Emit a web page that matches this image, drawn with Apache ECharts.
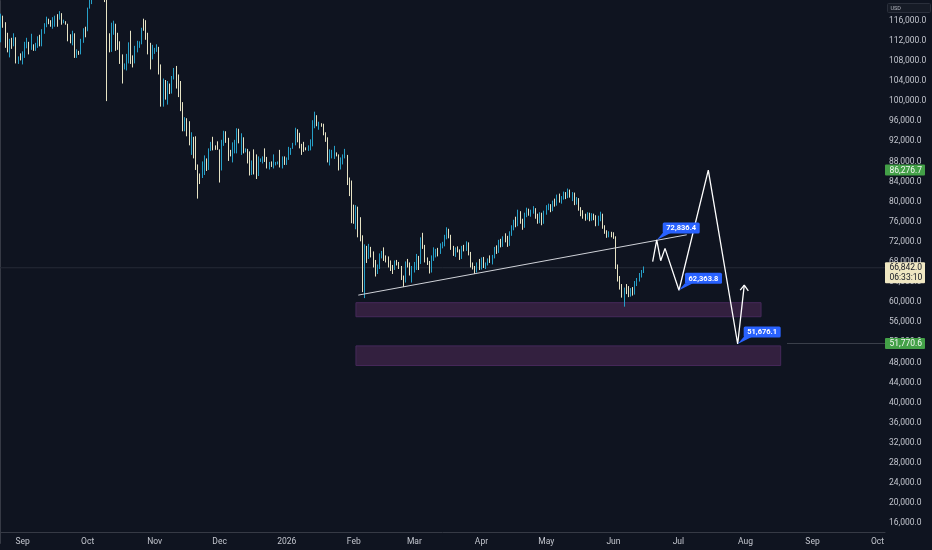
<!DOCTYPE html>
<html><head><meta charset="utf-8">
<script src="https://cdn.jsdelivr.net/npm/echarts@6/dist/echarts.min.js"></script>
<style>html,body{margin:0;padding:0;background:#0f1420;}#c{width:932px;height:550px;}</style>
</head><body><div id="c"></div>
<script>
// ---------- DATA ----------
const firstDay = '2025-08-22';   // first daily candle / first category
const categoryCount = 409;       // daily categories through 2026-10-04

const opens = [
112500,116900,115400,113500,110100,111800,111300,112600,108400,108800,
108200,109200,111200,111700,110700,110700,110200,111200,112100,111500,113900,115500,116100,115900,115400,115400,116800,116500,117100,115700,115700,115300,112700,112000,113300,109000,109700,109600,112100,114400,
114100,118600,120600,122300,122400,123500,124800,121500,123300,121700,113200,110700,115100,115300,113000,110800,108200,106500,107200,108600,110600,108500,107600,110100,111000,111600,114500,114100,112900,110000,108300,
109600,110100,110600,106500,101600,103900,101300,103300,102300,104700,106000,103000,101600,99700,94400,95500,94200,92200,92900,91500,86600,85100,84700,86800,88300,87300,90500,91300,90900,90800,
90400,86300,91300,93500,92100,89400,89300,90400,90600,92700,92000,92500,90300,90300,88200,86400,87800,86100,85500,88100,88300,88600,88500,87400,87600,87200,87300,87800,87800,87100,88400,
87500,88700,89900,90600,91400,93900,93700,91300,91000,90600,90400,90800,91200,95300,97000,95500,95500,95100,93600,92600,88300,89400,89500,89500,89200,86600,88300,89100,89200,84600,84100,
78600,76900,78700,75600,73000,62900,70500,69200,70900,69600,67800,66300,67000,69400,69900,68700,68500,67400,66900,66700,67900,67800,67100,64900,64200,67800,67600,65800,
66900,67300,68900,67900,72500,71100,68400,67900,66300,68700,69900,70300,70000,71300,71500,72900,74400,73100,70800,69700,70500,70200,68900,70800,70600,71600,69700,67300,66900,66200,67600,
66800,68500,67200,67500,68400,68000,69100,70600,70100,71900,71300,72800,72300,71500,73800,74900,76100,75400,77900,76200,75100,77400,78300,77600,78100,78400,77000,76300,77500,75900,
77800,78900,79200,78400,79800,79500,81000,80300,80800,81600,80900,82100,81300,81500,79700,80500,78600,77500,77100,76800,77600,76500,77400,76900,75500,76900,77400,75000,74000,73300,73800,
73400,72900,67000,64600,63000,61400,62500,62000,61600,62400,61800,63900,64400,65500,66100
];
const highs = [
117400,117000,115700,113600,112400,112600,113500,112700,108900,109500,
109900,111800,112600,111800,113400,111300,111600,112900,113200,114300,115500,116800,116400,116100,116700,117000,117300,117900,117500,116200,115900,115400,113300,114000,113500,110300,110000,112400,114500,114800,
118600,121000,123900,122900,125700,126200,125000,124100,123700,122500,113500,115600,116000,115400,113600,111900,109300,107500,109400,111700,114000,109100,111000,112000,111900,114600,116400,116100,113600,111600,111200,
110600,111300,110800,107300,104500,104200,104000,103500,105000,106600,107000,105300,104000,99800,96800,96600,96000,93800,92900,93000,87400,85600,88000,89200,88600,90600,91900,92900,91200,92000,
90400,92300,94100,94000,92700,90300,91800,92300,94600,94500,93600,92800,90600,90500,90000,88200,90400,89400,89000,88600,89000,90600,88900,87900,88000,89400,87900,88000,90300,89000,89000,
88800,90900,90700,91700,94700,94400,93700,91500,91900,90800,91200,92400,96200,97900,97200,95900,95600,95500,93800,92800,90400,90300,91100,89800,89400,88800,89400,90500,89300,84800,84200,
79400,79300,79000,76900,73300,71500,71200,71600,71000,70100,68400,67500,69700,70200,70900,69300,69100,68300,67400,68300,68400,68000,67200,65300,68100,68600,67900,67200,
68000,69600,69200,72900,73800,71400,68900,68200,69300,70900,70600,70800,71700,72000,73400,74900,74600,73400,71200,70900,71100,70500,71200,71400,72100,71900,70000,67900,67200,67900,68600,
68900,69000,67900,68700,69300,69400,71000,71300,72400,72600,73100,73700,73200,74100,75300,76400,77000,78400,78100,76600,77800,78800,78600,78400,79100,78700,77600,77900,77800,78200,
79300,79600,79500,80200,80600,81400,81600,81100,82000,81900,82600,82400,81900,81800,80900,80700,78900,78300,77600,77900,77800,77700,77600,77300,77200,78000,77600,75300,74300,74100,74000,
73900,73100,67500,65200,63600,62900,63600,63200,62800,63000,64200,64800,65800,66400,67100
];
const lows = [
111700,114600,110600,109700,108700,110400,110900,107500,107400,108100,
107300,108600,110500,109300,110200,110000,110000,110600,110900,110900,113400,114700,115300,114800,114400,114800,114800,116200,115200,115500,115200,111900,111500,111100,108600,108600,109200,109300,111600,112700,
113900,118400,119300,121600,122000,123100,120600,121100,119700,100000,109700,109800,113200,110000,110200,107400,103500,106300,106100,107500,107400,106700,107500,109700,110600,111300,114000,112200,109300,106300,108300,
109400,109800,105300,98900,98900,100300,99300,101400,101500,104300,102500,100800,98000,94000,94000,93000,91200,89300,88600,86300,80600,83500,84700,85300,86100,86300,90100,90200,90300,90300,
83800,86200,91100,91700,88100,89000,87800,89600,89600,91600,89300,89600,89800,87600,85200,85300,85400,84500,85100,87900,87600,87900,86600,86400,86900,86600,87200,87400,86800,86600,87300,
87300,88300,89300,90500,91200,91800,90600,89300,89900,90200,90100,90200,91000,94600,95000,94300,94900,93200,91900,87800,87200,88600,88500,89000,86200,86400,87400,88600,83300,81100,75700,
75600,74500,72900,72100,62000,60800,67800,68600,68900,66900,65100,65600,66600,68700,68200,67900,66900,66200,65600,66400,67300,66600,64400,63000,63900,66900,65300,63900,
65900,66400,66400,67600,70600,67900,67400,65700,65900,68200,68900,69100,69600,70700,71100,72500,72700,70400,69200,69000,69900,68400,68600,70100,70200,69300,66900,66500,65600,65900,66400,
66500,66800,66600,67300,67800,67500,68700,69600,69800,70900,71000,71900,71000,71200,73200,74300,74900,75100,75600,74400,74800,76900,77200,77000,77600,76600,75600,75700,75300,75600,
77400,78300,77900,78100,79000,79200,79800,79600,80400,80500,80700,80800,80100,79300,79400,78200,77100,76600,76200,76400,76100,76200,76300,75100,75200,76100,74600,73600,72800,72900,72900,
72600,66600,64100,62500,60900,59100,61600,61000,61100,61300,61500,63200,64100,64900,65800
];
const closes = [
116900,115400,113500,110100,111800,111300,112600,108400,108800,108200,
109200,111200,111700,110700,110700,110200,111200,112100,111500,113900,115500,116100,115900,115400,115400,116800,116500,117100,115700,115700,115300,112700,112000,113300,109000,109700,109600,112100,114400,114100,
118600,120600,122300,122400,123500,124800,121500,123300,121700,113200,110700,115100,115300,113000,110800,108200,106500,107200,108600,110600,108500,107600,110100,111000,111600,114500,114100,112900,110000,108300,109600,
110100,110600,106500,101600,103900,101300,103300,102300,104700,106000,103000,101600,99700,94400,95500,94200,92200,92900,91500,86600,85100,84700,86800,88300,87300,90500,91300,90900,90800,90400,
86300,91300,93500,92100,89400,89300,90400,90600,92700,92000,92500,90300,90300,88200,86400,87800,86100,85500,88100,88300,88600,88500,87400,87600,87200,87300,87800,87800,87100,88400,87500,
88700,89900,90600,91400,93900,93700,91300,91000,90600,90400,90800,91200,95300,97000,95500,95500,95100,93600,92600,88300,89400,89500,89500,89200,86600,88300,89100,89200,84600,84100,78600,
76900,78700,75600,73000,62900,70500,69200,70900,69600,67800,66300,67000,69400,69900,68700,68500,67400,66900,66700,67900,67800,67100,64900,64200,67800,67600,65800,66900,
67300,68900,67900,72500,71100,68400,67900,66300,68700,69900,70300,70000,71300,71500,72900,74400,73100,70800,69700,70500,70200,68900,70800,70600,71600,69700,67300,66900,66200,67600,66800,
68500,67200,67500,68400,68000,69100,70600,70100,71900,71300,72800,72300,71500,73800,74900,76100,75400,77900,76200,75100,77400,78300,77600,78100,78400,77000,76300,77500,75900,77800,
78900,79200,78400,79800,79500,81000,80300,80800,81600,80900,82100,81300,81500,79700,80500,78600,77500,77100,76800,77600,76500,77400,76900,75500,76900,77400,75000,74000,73300,73800,73400,
72900,67000,64600,63000,61400,62500,62000,61600,62400,61800,63900,64400,65500,66100,66842
];

const monthStarts = ['2025-09-01','2025-10-01','2025-11-01','2025-12-01','2026-01-01','2026-02-01','2026-03-01','2026-04-01','2026-05-01','2026-06-01','2026-07-01','2026-08-01','2026-09-01','2026-10-01'];
const monthLabels = ['Sep','Oct','Nov','Dec','2026','Feb','Mar','Apr','May','Jun','Jul','Aug','Sep','Oct'];
const yTickValues = [16000,20000,24000,28000,32000,36000,40000,44000,48000,52000,56000,60000,64000,68000,72000,76000,80000,84000,88000,92000,96000,100000,104000,108000,112000,116000];

// drawings (date/time, price)
const trendDates = ['2026-02-03 14:00','2026-07-05 09:00'];
const trendPrices = [61400, 73400];
const pathDates = ['2026-06-19 15:00','2026-06-21 12:00','2026-06-23 08:00','2026-06-25 08:00','2026-07-01 19:00','2026-07-15 08:00','2026-07-28 22:00','2026-07-31 23:00'];
const pathPrices = [68050, 72370, 68250, 70700, 62363.8, 86276.7, 51676.1, 63400];
const arrowDates = ['2026-07-30 02:00','2026-07-31 23:00','2026-08-02 20:00'];
const arrowPrices = [62380, 63400, 62260];
const zoneStarts = ['2026-02-02 12:00','2026-02-02 12:00'];
const zoneEnds = ['2026-08-08 17:00','2026-08-17 19:00'];
const zoneTops = [59900, 51300];
const zoneBottoms = [57100, 47400];
const noteDates = ['2026-06-21 12:00','2026-07-01 19:00','2026-07-28 22:00'];
const notePrices = [72370, 62363.8, 51676.1];
const noteTexts = ['72,836.4','62,363.8','51,676.1'];
const lastPrice = 66842;
const levelStart = '2026-08-20 17:00';
const levelPrice = 51770.6;
const tagPrices = [86276.7, 66842, 51770.6];
const tagTexts = [['86,276.7'], ['66,842.0','06:33:10'], ['51,770.6']];

// ---------- STYLE ----------
const BG = '#0f1420';
const UP = '#26a0c8', DOWN = '#e6e3c4';
const AXIS = '#363a45', TXT = '#c3c6ce';
const FONT = 'Roboto';
const TAG_STYLE = [{bg:'#43a047', fg:'#f2f7f2'}, {bg:'#efe7c2', fg:'#131722'}, {bg:'#43a047', fg:'#f2f7f2'}];

// ---------- BUILD ----------
const DAY = 86400000;
const t0 = Date.parse(firstDay + 'T00:00:00Z');
const dates = [];
for (let i = 0; i < categoryCount; i++) dates.push(new Date(t0 + i * DAY).toISOString().slice(0, 10));
const X = s => (Date.parse(s.replace(' ', 'T') + ':00Z') - t0) / DAY;
const candles = closes.map((c, i) => [opens[i], c, lows[i], highs[i]]);
const fmt = v => v.toLocaleString('en-US', {minimumFractionDigits: 1, maximumFractionDigits: 1});

const chart = echarts.init(document.getElementById('c'), null, {renderer: 'canvas'});
chart.setOption({
  backgroundColor: BG,
  animation: false,
  grid: {left: 0, right: 47, top: 0.6, bottom: 6.6, containLabel: false, outerBoundsMode: 'none'},
  xAxis: [{
    type: 'category', data: dates, boundaryGap: true, offset: -11.4,
    axisLine: {show: true, lineStyle: {color: AXIS}}, axisTick: {show: false}, splitLine: {show: false},
    axisLabel: {
      interval: (i, v) => monthStarts.indexOf(v) >= 0,
      formatter: v => { const k = monthStarts.indexOf(v); return k >= 0 ? monthLabels[k] : ''; },
      color: TXT, fontSize: 8.5, fontFamily: FONT, margin: 5
    }
  }, {
    type: 'value', min: 0, max: categoryCount, show: false
  }],
  yAxis: [{
    type: 'value', position: 'right', min: 12000, max: 120000, interval: 4000, scale: false,
    axisLine: {show: true, lineStyle: {color: AXIS}}, axisTick: {show: false}, splitLine: {show: false},
    axisLabel: {color: TXT, fontSize: 8.5, fontFamily: FONT, margin: 4,
      formatter: v => yTickValues.indexOf(v) >= 0 ? fmt(v) : ''}
  }],
  graphic: [{
    type: 'group', left: 887, top: 3, children: [
      {type: 'rect', shape: {x: 0, y: 0, width: 43, height: 9, r: 1}, style: {fill: '#161b26', stroke: '#2a2f3b', lineWidth: 1}},
      {type: 'text', style: {text: 'USD', x: 3, y: 4.8, verticalAlign: 'middle', fill: '#b2b5be', fontSize: 5.5, fontFamily: FONT}}
    ]
  }],
  series: [
    { // zones
      type: 'custom', xAxisIndex: 1, yAxisIndex: 0, z: 1, silent: true,
      data: zoneStarts.map((s, k) => [X(s), zoneTops[k], X(zoneEnds[k]), zoneBottoms[k]]),
      encode: {x: [0, 2], y: [1, 3]},
      renderItem: (params, api) => {
        const a = api.coord([api.value(0), api.value(1)]);
        const b = api.coord([api.value(2), api.value(3)]);
        return {type: 'rect', shape: {x: a[0], y: a[1], width: b[0] - a[0], height: b[1] - a[1]},
          style: {fill: '#33203f', stroke: '#46295a', lineWidth: 1}};
      }
    },
    { // last price line
      type: 'line', xAxisIndex: 1, yAxisIndex: 0, z: 1, silent: true, symbol: 'none',
      data: [[0, lastPrice], [categoryCount, lastPrice]],
      lineStyle: {color: '#262b37', width: 1}
    },
    {
      type: 'candlestick', xAxisIndex: 0, yAxisIndex: 0, z: 2, data: candles, barWidth: 1, clip: true,
      itemStyle: {color: UP, color0: DOWN, borderColor: UP, borderColor0: DOWN, borderWidth: 1}
    },
    { // trendline
      type: 'line', xAxisIndex: 1, yAxisIndex: 0, z: 3, silent: true, symbol: 'none',
      data: trendDates.map((d, k) => [X(d), trendPrices[k]]),
      lineStyle: {color: '#cfd2d8', width: 1}
    },
    { // 51,770.6 level
      type: 'line', xAxisIndex: 1, yAxisIndex: 0, z: 3, silent: true, symbol: 'none',
      data: [[X(levelStart), levelPrice], [categoryCount, levelPrice]],
      lineStyle: {color: '#3b404c', width: 1}
    },
    { // projection path
      type: 'line', xAxisIndex: 1, yAxisIndex: 0, z: 4, silent: true, symbol: 'none',
      data: pathDates.map((d, k) => [X(d), pathPrices[k]]),
      lineStyle: {color: '#ffffff', width: 1.3}
    },
    { // arrow head
      type: 'line', xAxisIndex: 1, yAxisIndex: 0, z: 4, silent: true, symbol: 'none',
      data: arrowDates.map((d, k) => [X(d), arrowPrices[k]]),
      lineStyle: {color: '#ffffff', width: 1.3}
    },
    { // price notes
      type: 'custom', xAxisIndex: 1, yAxisIndex: 0, z: 5, silent: true,
      data: noteDates.map((d, k) => [X(d), notePrices[k]]),
      encode: {x: 0, y: 1},
      renderItem: (params, api) => {
        const k = params.dataIndex;
        const p = api.coord([api.value(0), api.value(1)]);
        const bx = p[0] + 6, by = p[1] - 17.5, bw = 37, bh = 11;
        return {type: 'group', children: [
          {type: 'polygon', shape: {points: [[p[0], p[1]], [bx, by + bh - 0.5], [bx + 8, by + bh - 0.5]]}, style: {fill: '#2962ff'}},
          {type: 'rect', shape: {x: bx, y: by, width: bw, height: bh, r: 1.5}, style: {fill: '#2962ff'}},
          {type: 'text', style: {text: noteTexts[k], x: bx + bw / 2, y: by + bh / 2 + 0.5, align: 'center', verticalAlign: 'middle',
            fill: '#ffffff', fontSize: 7.5, fontWeight: 'bold', fontFamily: FONT}}
        ]};
      }
    },
    { // axis price tags
      type: 'custom', xAxisIndex: 1, yAxisIndex: 0, z: 10, silent: true,
      data: tagPrices.map(p => [categoryCount, p]),
      encode: {x: 0, y: 1},
      renderItem: (params, api) => {
        const k = params.dataIndex;
        const p = api.coord([api.value(0), api.value(1)]);
        const lines = tagTexts[k];
        const h = lines.length === 1 ? 11 : 21;
        const st = TAG_STYLE[k];
        const kids = [{type: 'rect', shape: {x: p[0], y: p[1] - 5.5, width: 40, height: h, r: 1}, style: {fill: st.bg}}];
        lines.forEach((t, j) => kids.push({type: 'text', style: {text: t, x: p[0] + 4.5, y: p[1] + 0.5 + j * 9.5,
          verticalAlign: 'middle', fill: st.fg, fontSize: 8.5, fontFamily: FONT}}));
        return {type: 'group', children: kids};
      }
    }
  ]
});
</script>
</body></html>
